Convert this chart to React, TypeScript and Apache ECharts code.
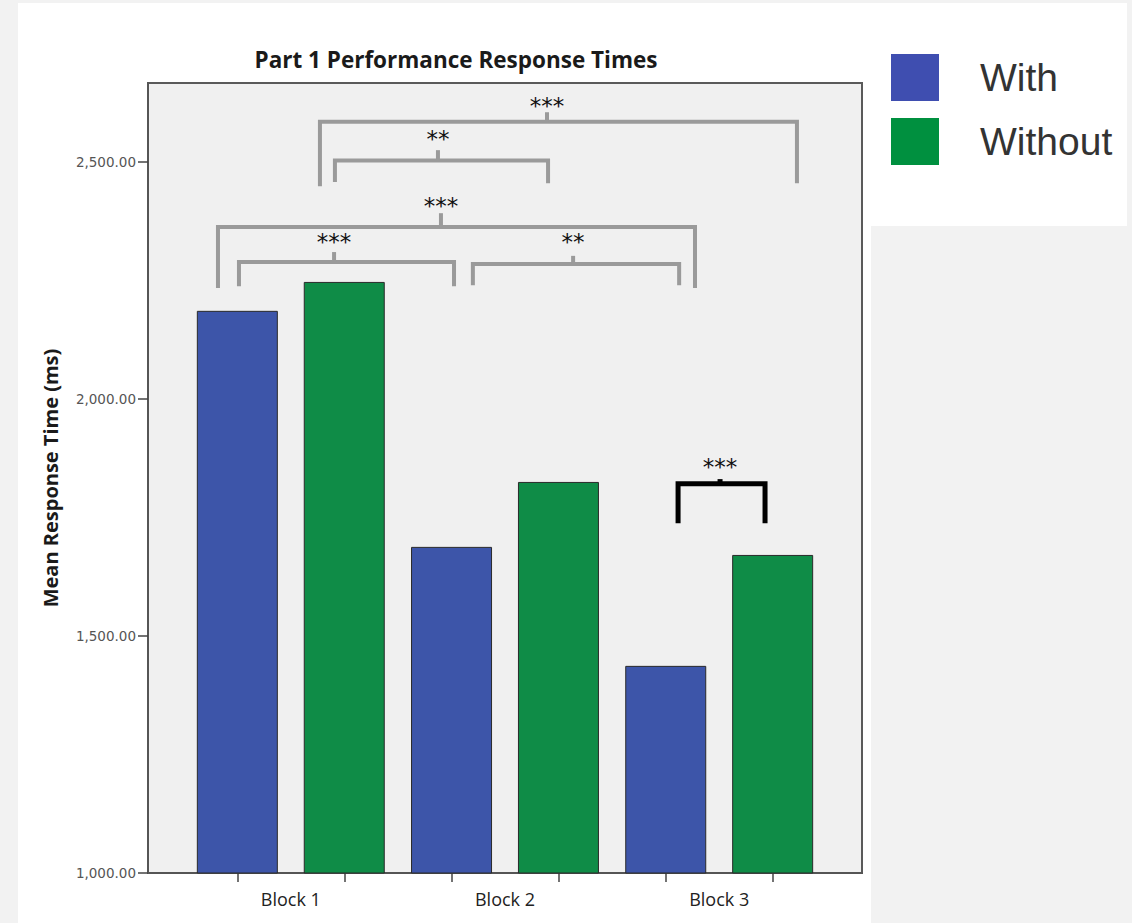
import React, { useEffect, useRef } from "react";
import * as echarts from "echarts";

// ---- data ----
const categories = ["Block 1", "Block 2", "Block 3"];
const seriesNames = ["With", "Without"];
const withValues = [2186, 1688, 1437];
const withoutValues = [2247, 1825, 1671];
const yTickValues = [1000, 1500, 2000, 2500];

// significance brackets (x in block units, y in ms)
const bracketLabels = ["***", "**", "***", "***", "**", "***"];
const bracketStart = [1.136, 1.206, 0.66, 0.758, 1.85, 2.808];
const bracketEnd = [3.363, 2.201, 2.887, 1.762, 2.813, 3.214];
const bracketMid = [2.196, 1.687, 1.701, 1.202, 2.318, 3.004];
const bracketLevel = [2585, 2503, 2363, 2289, 2285, 1821];
const bracketLeftFoot = [2449, 2458, 2234, 2238, 2240, 1738];
const bracketRightFoot = [2455, 2455, 2234, 2238, 2240, 1738];
const bracketTickTop = [2605, 2525, 2392, 2310, 2302, 1831];
const bracketTextY = [2631, 2561, 2420, 2344, 2344, 1869];
const bracketColor = ["#9a9a9a", "#9a9a9a", "#9a9a9a", "#9a9a9a", "#9a9a9a", "#000000"];
const bracketWidth = [4, 4, 4, 4, 4, 5];

const BAR_OFFSET = 0.25;

export default function App() {
  const ref = useRef<HTMLDivElement>(null);

  useEffect(() => {
    document.body.style.margin = "0";
    const chart = echarts.init(ref.current!, null, { renderer: "svg" });

    const xPos = categories.map((_, i) => i + 1);
    const barTicks: number[] = [];
    xPos.forEach((x) => {
      barTicks.push(x - BAR_OFFSET, x + BAR_OFFSET);
    });

    const bracketData = bracketLabels.map((_, i) => [
      bracketStart[i],
      bracketEnd[i],
      bracketMid[i],
      bracketLevel[i],
      bracketLeftFoot[i],
      bracketRightFoot[i],
      bracketTickTop[i],
      bracketTextY[i],
    ]);

    const option: any = {
      animation: false,
      backgroundColor: "#f2f2f2",
      graphic: {
        elements: [
          { type: "rect", z: -100, silent: true, shape: { x: 18, y: 3, width: 853, height: 920 }, style: { fill: "#ffffff" } },
          { type: "rect", z: -100, silent: true, shape: { x: 871, y: 3, width: 256, height: 223 }, style: { fill: "#ffffff" } },
        ],
      },
      title: {
        text: "Part 1 Performance Response Times",
        left: 451,
        top: 43,
        textAlign: "center",
        textStyle: { fontFamily: "Open Sans", fontWeight: "bold", fontSize: 22.5, color: "#1a1a1a" },
      },
      legend: {
        orient: "vertical",
        left: 891,
        top: 54,
        padding: 0,
        itemWidth: 48,
        itemHeight: 47,
        itemGap: 17,
        icon: "rect",
        textStyle: { fontFamily: "Liberation Sans", fontSize: 39, color: "#333333", padding: [0, 0, 0, 36] },
        data: [
          { name: "With", itemStyle: { color: "#3f4eb0", borderWidth: 0 } },
          { name: "Without", itemStyle: { color: "#00903f", borderWidth: 0 } },
        ],
      },
      grid: {
        left: 148,
        top: 83,
        width: 714,
        height: 790,
        show: true,
        backgroundColor: "#f0f0f0",
        borderColor: "#5a5a5a",
        borderWidth: 2,
      },
      xAxis: {
        type: "value",
        min: 1 / 3,
        max: 11 / 3,
        splitLine: { show: false },
        axisLine: { show: true, onZero: false, lineStyle: { color: "#555555", width: 2 } },
        axisTick: { show: true, customValues: barTicks, length: 9, lineStyle: { color: "#444444", width: 1.5 } },
        axisLabel: {
          customValues: xPos,
          margin: 17,
          fontFamily: "Open Sans",
          fontSize: 18,
          color: "#222222",
          formatter: (v: number) => categories[Math.round(v) - 1] ?? "",
        },
      },
      yAxis: {
        type: "value",
        min: 1000,
        max: 8000 / 3,
        splitLine: { show: false },
        axisLine: { show: true, lineStyle: { color: "#555555", width: 2 } },
        axisTick: { show: true, customValues: yTickValues, length: 10, lineStyle: { color: "#444444", width: 1.5 } },
        axisLabel: {
          customValues: yTickValues,
          margin: 12,
          fontFamily: "DejaVu Sans",
          fontSize: 13.5,
          color: "#555555",
          formatter: (v: number) =>
            v.toLocaleString("en-US", { minimumFractionDigits: 2, maximumFractionDigits: 2 }),
        },
        name: "Mean Response Time (ms)",
        nameLocation: "middle",
        nameGap: 88,
        nameTextStyle: { fontFamily: "Open Sans", fontWeight: "bold", fontSize: 20, color: "#1a1a1a" },
      },
      series: [
        {
          name: seriesNames[0],
          type: "bar",
          barWidth: 81,
          barGap: "32%",
          data: withValues.map((v, i) => [xPos[i], v]),
          itemStyle: { color: "#3d55a9", borderColor: "#2a2a2a", borderWidth: 1 },
        },
        {
          name: seriesNames[1],
          type: "bar",
          barWidth: 81,
          barGap: "32%",
          data: withoutValues.map((v, i) => [xPos[i], v]),
          itemStyle: { color: "#0f8c47", borderColor: "#2a2a2a", borderWidth: 1 },
        },
        {
          name: "brackets",
          type: "custom",
          z: 5,
          silent: true,
          clip: false,
          encode: { x: [0, 1, 2], y: [3, 4, 5, 6, 7] },
          data: bracketData,
          renderItem: (params: any, api: any) => {
            const i = params.dataIndex;
            const x1 = api.value(0), x2 = api.value(1), xm = api.value(2);
            const y = api.value(3), yl = api.value(4), yr = api.value(5), yt = api.value(6), ys = api.value(7);
            const pL = api.coord([x1, yl]);
            const p1 = api.coord([x1, y]);
            const p2 = api.coord([x2, y]);
            const pR = api.coord([x2, yr]);
            const pm = api.coord([xm, y]);
            const pt = api.coord([xm, yt]);
            const ps = api.coord([xm, ys]);
            const c = bracketColor[i];
            const w = bracketWidth[i];
            return {
              type: "group",
              children: [
                {
                  type: "polyline",
                  shape: { points: [pL, p1, p2, pR] },
                  style: { stroke: c, lineWidth: w, fill: "none" },
                },
                {
                  type: "line",
                  shape: { x1: pm[0], y1: pm[1], x2: pt[0], y2: pt[1] },
                  style: { stroke: c, lineWidth: w },
                },
                {
                  type: "text",
                  x: ps[0],
                  y: ps[1] + 6,
                  style: {
                    text: bracketLabels[i],
                    fill: "#111111",
                    fontFamily: "DejaVu Sans",
                    fontSize: 23,
                    align: "center",
                    verticalAlign: "middle",
                  },
                },
              ],
            };
          },
        },
      ],
    };

    chart.setOption(option);
    return () => chart.dispose();
  }, []);

  return <div ref={ref} style={{ width: 1132, height: 923 }} />;
}
